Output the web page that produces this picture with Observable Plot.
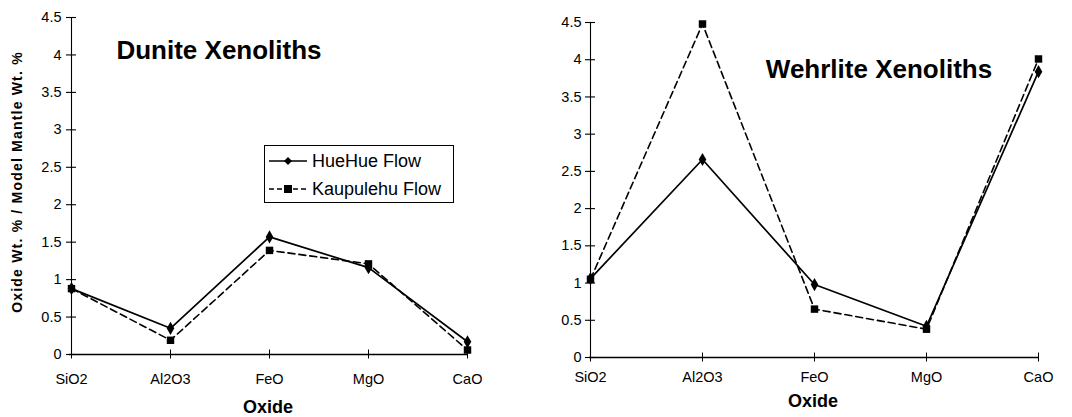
<!DOCTYPE html>
<html><head><meta charset="utf-8">
<script src="https://cdn.jsdelivr.net/npm/d3@7"></script>
<script src="https://cdn.jsdelivr.net/npm/@observablehq/plot@0.6"></script>
<style>
body{margin:0;background:#fff;width:1072px;height:417px;position:relative;overflow:hidden;font-family:"Liberation Sans",Arial,sans-serif;color:#000}
.panel{position:absolute;top:0}
.panel svg text{font-size:14.5px}
.ov{position:absolute;white-space:nowrap;transform:translate(-50%,-50%);line-height:1}
.title{font-weight:bold;font-size:26px}
.xlab{font-weight:bold;font-size:18px}
.ylab{font-weight:bold;font-size:14px;letter-spacing:1.2px;transform:translate(-50%,-50%) rotate(-90deg)}
.legend{position:absolute;border:1px solid #000;background:#fff;font-size:18px}
.legend .row{position:absolute;left:0;height:20px;display:flex;align-items:center}
.legend svg{display:block;margin-right:3px}
</style></head>
<body>
<div id="left" class="panel" style="left:0px"></div>
<div id="right" class="panel" style="left:530px"></div>
<script>
const oxides = ["SiO2", "Al2O3", "FeO", "MgO", "CaO"];
const seriesNames = ["HueHue Flow", "Kaupulehu Flow"];
const duniteHueHue = [0.88, 0.35, 1.57, 1.16, 0.17];
const duniteKaupulehu = [0.88, 0.19, 1.39, 1.21, 0.06];
const wehrliteHueHue = [1.06, 2.66, 0.98, 0.42, 3.84];
const wehrliteKaupulehu = [1.05, 4.48, 0.65, 0.38, 4.01];
const yTicks = [0, 0.5, 1, 1.5, 2, 2.5, 3, 3.5, 4, 4.5];
const panelTitles = ["Dunite Xenoliths", "Wehrlite Xenoliths"];
const xTitle = "Oxide";
const yTitle = "Oxide Wt. % / Model Mantle Wt. %";

function rows(vals, series) {
  return oxides.map((o, i) => ({oxide: o, value: vals[i], series}));
}

function panel({width, height, mL, mR, mT, mB, hue, kau, xPad}) {
  const dH = rows(hue, seriesNames[0]);
  const dK = rows(kau, seriesNames[1]);
  return Plot.plot({
    width, height,
    marginLeft: mL, marginRight: mR, marginTop: mT, marginBottom: mB,
    style: {fontFamily: "Liberation Sans, Arial, sans-serif", background: "transparent", color: "#000", overflow: "visible"},
    x: {type: "point", domain: oxides, padding: 0},
    y: {domain: [0, 4.5]},
    marks: [
      Plot.ruleY([0], {stroke: "#000", strokeWidth: 1.4}),
      Plot.ruleX([oxides[0]], {x: d => d, y1: 0, y2: 4.5, stroke: "#000", strokeWidth: 1.1}),
      Plot.ruleY(yTicks, {y: d => d, x1: () => oxides[0], x2: () => oxides[0], insetLeft: -5, insetRight: -5, stroke: "#000", strokeWidth: 1.1}),
      Plot.ruleX(oxides, {x: d => d, y1: -0.06, y2: 0.06, stroke: "#000"}),
      Plot.axisY({ticks: yTicks, tickSize: 0, tickPadding: 8, label: null, tickFormat: d => String(d)}),
      Plot.axisX({tickSize: 0, tickPadding: xPad, label: null}),
      Plot.line(dK, {x: "oxide", y: "value", stroke: "#000", strokeWidth: 1.6, strokeDasharray: "7,4"}),
      Plot.line(dH, {x: "oxide", y: "value", stroke: "#000", strokeWidth: 1.7}),
      Plot.dot(dK, {x: "oxide", y: "value", symbol: "square", r: 4.2, fill: "#000"}),
      Plot.dot(dH, {x: "oxide", y: "value", symbol: "diamond", r: 4, fill: "#000"})
    ]
  });
}

document.getElementById("left").append(panel({width: 536, height: 417, mL: 69, mR: 68, mT: 17, mB: 63, hue: duniteHueHue, kau: duniteKaupulehu, xPad: 19}));
document.getElementById("right").append(panel({width: 542, height: 417, mL: 59, mR: 34, mT: 22, mB: 60, hue: wehrliteHueHue, kau: wehrliteKaupulehu, xPad: 14}));

function addText(cls, text, x, y) {
  const d = document.createElement("div");
  d.className = "ov " + cls;
  d.textContent = text;
  d.style.left = x + "px";
  d.style.top = y + "px";
  document.body.append(d);
}
addText("title", panelTitles[0], 219, 50);
addText("title", panelTitles[1], 879, 69);
addText("xlab", xTitle, 268, 407);
addText("xlab", xTitle, 813, 401);
addText("ylab", yTitle, 17, 182);

// legend
const lg = document.createElement("div");
lg.className = "legend";
Object.assign(lg.style, {left: "264px", top: "145px", width: "188px", height: "56px"});
const sym = [
  '<svg width="44" height="20"><line x1="4" y1="10" x2="42" y2="10" stroke="#000" stroke-width="1.7"/><path d="M23,6L27,10L23,14L19,10Z" fill="#000"/></svg>',
  '<svg width="44" height="20"><line x1="4" y1="10" x2="42" y2="10" stroke="#000" stroke-width="1.6" stroke-dasharray="5,3"/><rect x="19" y="6" width="8" height="8" fill="#000"/></svg>'
];
seriesNames.forEach((s, i) => {
  const r = document.createElement("div");
  r.className = "row";
  r.style.top = (5 + i * 28) + "px";
  r.innerHTML = sym[i] + "<span></span>";
  r.querySelector("span").textContent = s;
  lg.append(r);
});
document.body.append(lg);
</script>
</body></html>
